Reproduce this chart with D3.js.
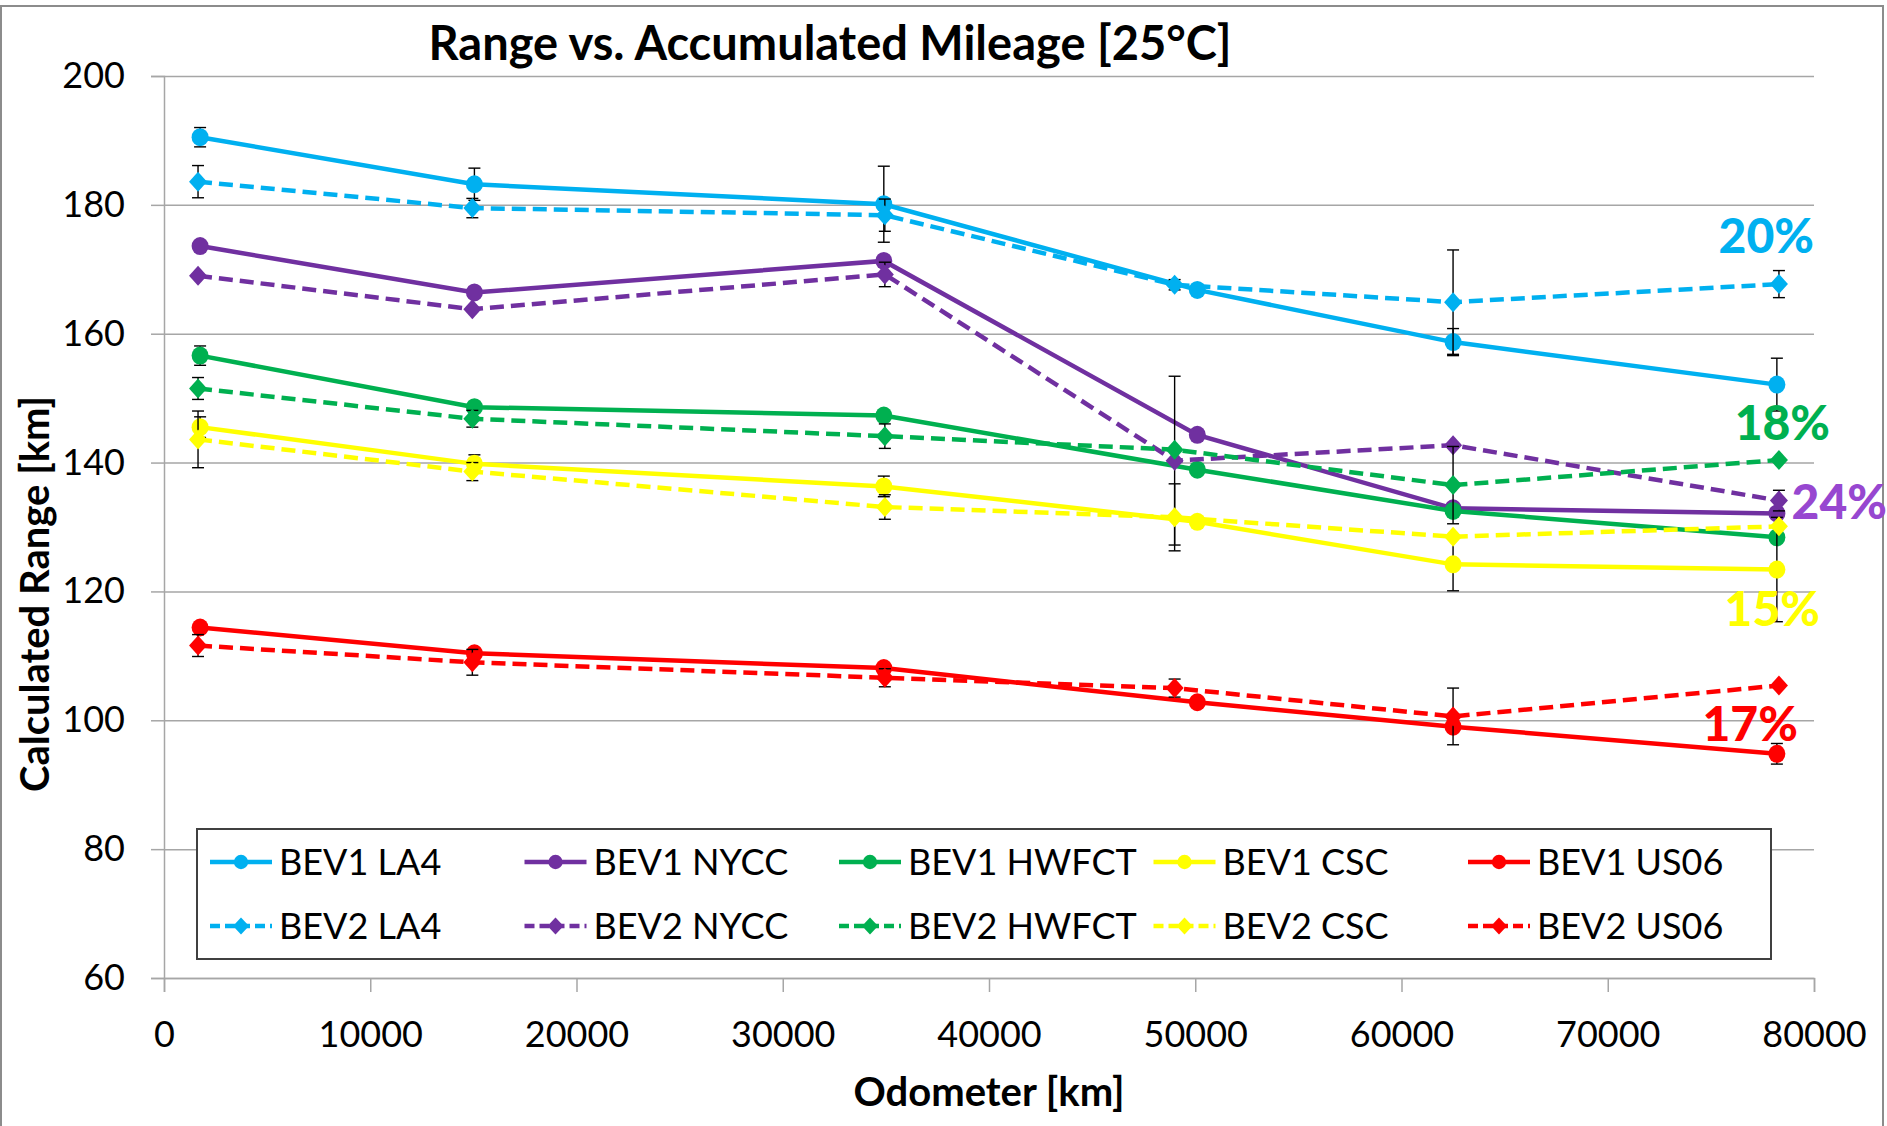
<!DOCTYPE html>
<html>
<head>
<meta charset="utf-8">
<script src="https://cdn.jsdelivr.net/npm/d3@7"></script>
<style>
    body { margin: 0; background: #fff; }
    svg { display: block; font-family: Lato, "Open Sans", sans-serif; }
</style>
</head>
<body>
<script>
//execute script when window is loaded
window.onload = function(){

    //SVG dimension variables
    var w = 1887, h = 1126;

    //odometer readings for each vehicle [km]
    var odoBEV1 = [1750, 15050, 34900, 50100, 62500, 78200];
    var odoBEV2 = [1650, 14950, 34950, 49000, 62500, 78300];

    //calculated range [km] per drive cycle
    var bev1LA4 = [190.5, 183.2, 180.1, 166.8, 158.7, 152.1];
    var bev1NYCC = [173.6, 166.4, 171.3, 144.3, 132.9, 132.1];
    var bev1HWFCT = [156.6, 148.6, 147.3, 138.9, 132.5, 128.4];
    var bev1CSC = [145.5, 139.8, 136.3, 130.8, 124.2, 123.4];
    var bev1US06 = [114.4, 110.4, 108.1, 102.8, 99.0, 94.8];

    var bev2LA4 = [183.6, 179.5, 178.4, 167.6, 164.9, 167.7];
    var bev2NYCC = [169.0, 163.8, 169.2, 140.3, 142.7, 134.1];
    var bev2HWFCT = [151.5, 146.8, 144.1, 142.0, 136.5, 140.4];
    var bev2CSC = [143.6, 138.6, 133.1, 131.5, 128.5, 130.1];
    var bev2US06 = [111.6, 109.0, 106.6, 105.0, 100.6, 105.4];

    //error bar half-widths [km]
    var errBEV1LA4 = [1.5, 2.5, 5.9, 0, 2.1, 4.1];
    var errBEV1NYCC = [0, 0, 0, 0, 0, 0];
    var errBEV1HWFCT = [1.5, 0, 0, 0, 0, 0];
    var errBEV1CSC = [1.6, 1.4, 1.6, 0, 4.1, 8.1];
    var errBEV1US06 = [0.7, 0, 0, 0, 0, 1.6];

    var errBEV2LA4 = [2.5, 1.5, 2.5, 0.8, 8.1, 2.1];
    var errBEV2NYCC = [0, 0, 1.9, 13.1, 0, 1.6];
    var errBEV2HWFCT = [1.7, 1.3, 1.9, 0, 6.0, 0];
    var errBEV2CSC = [4.4, 1.4, 1.9, 5.2, 0, 0];
    var errBEV2US06 = [1.7, 2.0, 1.4, 1.4, 4.4, 0];

    //axis ticks
    var xTicks = [0, 10000, 20000, 30000, 40000, 50000, 60000, 70000, 80000];
    var yTicks = [60, 80, 100, 120, 140, 160, 180, 200];

    //range loss annotations
    var lossLabels = ["20%", "18%", "24%", "15%", "17%"];
    var lossX = [80000, 80780, 83540, 80290, 79220];
    var lossY = [172.6, 143.5, 131.3, 114.7, 96.8];

    //series colours
    var cycleColor = {
        LA4: "#00B0F0",
        NYCC: "#7030A0",
        HWFCT: "#00B050",
        CSC: "#FFFF00",
        US06: "#FF0000"
    };
    var lossColor = ["#00B0F0", "#00B050", "#9747D0", "#FFFF00", "#FF0000"];

    //series table built from the arrays above
    var series = [
        {name: "BEV1 LA4", cycle: "LA4", odo: odoBEV1, val: bev1LA4, err: errBEV1LA4, bev2: false},
        {name: "BEV1 NYCC", cycle: "NYCC", odo: odoBEV1, val: bev1NYCC, err: errBEV1NYCC, bev2: false},
        {name: "BEV1 HWFCT", cycle: "HWFCT", odo: odoBEV1, val: bev1HWFCT, err: errBEV1HWFCT, bev2: false},
        {name: "BEV1 CSC", cycle: "CSC", odo: odoBEV1, val: bev1CSC, err: errBEV1CSC, bev2: false},
        {name: "BEV1 US06", cycle: "US06", odo: odoBEV1, val: bev1US06, err: errBEV1US06, bev2: false},
        {name: "BEV2 LA4", cycle: "LA4", odo: odoBEV2, val: bev2LA4, err: errBEV2LA4, bev2: true},
        {name: "BEV2 NYCC", cycle: "NYCC", odo: odoBEV2, val: bev2NYCC, err: errBEV2NYCC, bev2: true},
        {name: "BEV2 HWFCT", cycle: "HWFCT", odo: odoBEV2, val: bev2HWFCT, err: errBEV2HWFCT, bev2: true},
        {name: "BEV2 CSC", cycle: "CSC", odo: odoBEV2, val: bev2CSC, err: errBEV2CSC, bev2: true},
        {name: "BEV2 US06", cycle: "US06", odo: odoBEV2, val: bev2US06, err: errBEV2US06, bev2: true}
    ];
    series.forEach(function(s){
        s.points = s.val.map(function(v, i){
            return {x: s.odo[i], y: v, e: s.err[i]};
        });
    });

    //create the SVG container
    var container = d3.select("body")
        .append("svg")
        .attr("width", w)
        .attr("height", h);

    //outer chart frame
    container.append("rect")
        .attr("x", 1)
        .attr("y", 6)
        .attr("width", 1882)
        .attr("height", 1140)
        .style("fill", "#fff")
        .style("stroke", "#8c8c8c")
        .style("stroke-width", 2);

    //scales
    var x = d3.scaleLinear()
        .domain([0, 80000])
        .range([164, 1814]);

    var y = d3.scaleLinear()
        .domain([60, 200])
        .range([978, 76]);

    //horizontal gridlines
    var grid = container.append("g")
        .attr("transform", "translate(" + x(0) + ",0)")
        .call(d3.axisLeft(y).tickValues(yTicks).tickSize(-(x(80000) - x(0))).tickFormat(""));
    grid.select(".domain").remove();
    grid.selectAll("line").style("stroke", "#a6a6a6").style("stroke-width", 1.5);

    //y axis
    var yAxis = container.append("g")
        .attr("transform", "translate(" + x(0) + ",0)")
        .call(d3.axisLeft(y).tickValues(yTicks).tickSize(13).tickPadding(26));

    //x axis
    var xAxis = container.append("g")
        .attr("transform", "translate(0," + y(60) + ")")
        .call(d3.axisBottom(x).tickValues(xTicks).tickSize(14).tickFormat(d3.format("d")));
    xAxis.selectAll("text").attr("y", 69).attr("dy", null);

    [yAxis, xAxis].forEach(function(a){
        a.select(".domain").style("stroke", "#a6a6a6").style("stroke-width", 1.5);
        a.selectAll("line").style("stroke", "#a6a6a6").style("stroke-width", 1.5);
        a.selectAll("text")
            .style("font-family", "Lato, sans-serif")
            .style("font-size", "36px")
            .style("fill", "#000");
    });

    //line generator
    var line = d3.line()
        .x(function(d){ return x(d.x); })
        .y(function(d){ return y(d.y); });

    var diamond = "M0,-10L9,0L0,10L-9,0Z";

    //draw each series with its error bars and markers
    series.forEach(function(s){
        var g = container.append("g").attr("class", "series");
        var col = cycleColor[s.cycle];

        g.append("path")
            .datum(s.points)
            .attr("d", line)
            .style("fill", "none")
            .style("stroke", col)
            .style("stroke-width", 4.5)
            .style("stroke-dasharray", s.bev2 ? "14,7" : null);

        var bars = g.selectAll(".err")
            .data(s.points.filter(function(d){ return d.e > 0; }))
            .enter()
            .append("g")
            .attr("class", "err")
            .style("stroke", "#000")
            .style("stroke-width", 1.4);
        bars.append("line")
            .attr("x1", function(d){ return x(d.x); })
            .attr("x2", function(d){ return x(d.x); })
            .attr("y1", function(d){ return y(d.y + d.e); })
            .attr("y2", function(d){ return y(d.y - d.e); });
        [1, -1].forEach(function(sign){
            bars.append("line")
                .attr("x1", function(d){ return x(d.x) - 6; })
                .attr("x2", function(d){ return x(d.x) + 6; })
                .attr("y1", function(d){ return y(d.y + sign * d.e); })
                .attr("y2", function(d){ return y(d.y + sign * d.e); });
        });

        if (s.bev2) {
            g.selectAll(".mark")
                .data(s.points)
                .enter()
                .append("path")
                .attr("d", diamond)
                .attr("transform", function(d){
                    return "translate(" + x(d.x) + "," + y(d.y) + ")";
                })
                .style("fill", col);
        } else {
            g.selectAll(".mark")
                .data(s.points)
                .enter()
                .append("ellipse")
                .attr("cx", function(d){ return x(d.x); })
                .attr("cy", function(d){ return y(d.y); })
                .attr("rx", 8.5)
                .attr("ry", 9)
                .style("fill", col);
        }
    });

    //range loss labels
    container.selectAll(".loss")
        .data(lossLabels)
        .enter()
        .append("text")
        .attr("class", "loss")
        .attr("text-anchor", "end")
        .attr("x", function(d, i){ return x(lossX[i]); })
        .attr("y", function(d, i){ return y(lossY[i]); })
        .style("font-size", "48px")
        .style("font-weight", "900")
        .style("fill", function(d, i){ return lossColor[i]; })
        .text(function(d){ return d; });

    //legend
    var legend = container.append("g").attr("class", "legend");
    legend.append("rect")
        .attr("x", 197)
        .attr("y", 829)
        .attr("width", 1574)
        .attr("height", 130)
        .style("fill", "#fff")
        .style("stroke", "#404040")
        .style("stroke-width", 2);

    var items = legend.selectAll(".item")
        .data(series)
        .enter()
        .append("g")
        .attr("class", "item")
        .attr("transform", function(d, i){
            return "translate(" + (210 + (i % 5) * 314.5) + "," + (862 + Math.floor(i / 5) * 64) + ")";
        });

    items.append("line")
        .attr("x1", 0)
        .attr("x2", 62)
        .style("stroke", function(d){ return cycleColor[d.cycle]; })
        .style("stroke-width", 4.5)
        .style("stroke-dasharray", function(d){ return d.bev2 ? "10,5" : null; });

    items.append("path")
        .attr("d", function(d){
            return d.bev2 ? "M31,-8.5L39,0L31,8.5L23,0Z" : d3.symbol(d3.symbolCircle, 160)();
        })
        .attr("transform", function(d){ return d.bev2 ? null : "translate(31,0)"; })
        .style("fill", function(d){ return cycleColor[d.cycle]; });

    items.append("text")
        .attr("x", 69)
        .attr("dy", "0.35em")
        .style("font-size", "36px")
        .text(function(d){ return d.name; });

    //chart title
    container.append("text")
        .attr("text-anchor", "middle")
        .attr("x", 830)
        .attr("y", 60)
        .style("font-size", "47px")
        .style("font-weight", "bold")
        .text("Range vs. Accumulated Mileage [25°C]");

    //axis titles
    container.append("text")
        .attr("text-anchor", "middle")
        .attr("x", 989)
        .attr("y", 1106)
        .style("font-size", "40px")
        .style("font-weight", "bold")
        .text("Odometer [km]");

    container.append("text")
        .attr("text-anchor", "middle")
        .attr("transform", "translate(49,594) rotate(-90)")
        .style("font-size", "40px")
        .style("font-weight", "bold")
        .text("Calculated Range [km]");

};
</script>
</body>
</html>
